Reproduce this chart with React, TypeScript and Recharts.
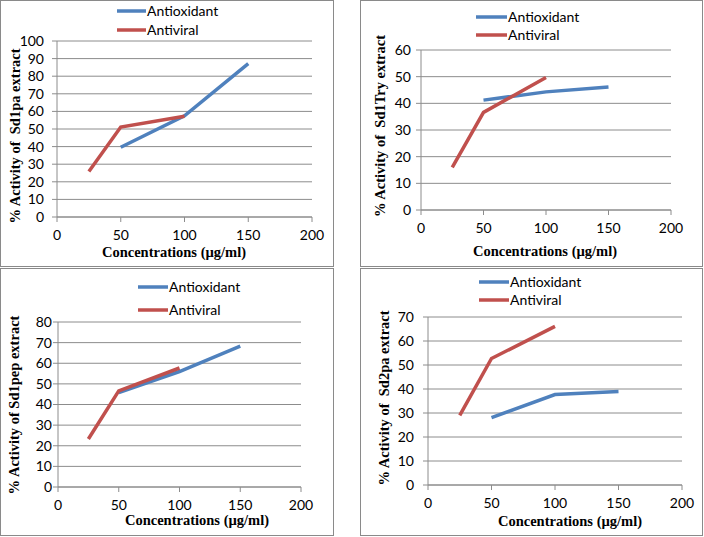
import { CartesianGrid, Legend, Line, LineChart, XAxis, YAxis } from "recharts";

// doses tested for each activity
const antioxidantDoses = [50, 100, 150];
const antiviralDoses = [25, 50, 100];

const xTicks = [0, 50, 100, 150, 200];
const yTicks100 = [0, 10, 20, 30, 40, 50, 60, 70, 80, 90, 100];
const yTicks80 = [0, 10, 20, 30, 40, 50, 60, 70, 80];
const yTicks70 = [0, 10, 20, 30, 40, 50, 60, 70];
const yTicks60 = [0, 10, 20, 30, 40, 50, 60];

// % activity
const sd1paAntioxidant = [39.6, 57.5, 87.1];
const sd1paAntiviral = [25.9, 51.1, 57.2];
const sd1TryAntioxidant = [41.2, 44.3, 46.1];
const sd1TryAntiviral = [16, 36.6, 49.7];
const sd1pepAntioxidant = [45.8, 56, 68.3];
const sd1pepAntiviral = [23.3, 46.6, 57.7];
const sd2paAntioxidant = [28.1, 37.7, 39];
const sd2paAntiviral = [29, 52.7, 66.1];

const BLUE = "#4F81BD";
const RED = "#C0504D";
const GRID = "#8c8c8c";
const SANS = "Lato, 'Open Sans', sans-serif";
const SERIF = "'Liberation Serif', 'DejaVu Serif', serif";

const toPoints = (doses: number[], vals: number[]) =>
  doses.map((x, i) => ({ x, y: vals[i] }));

const panels = [
  {
    name: "sd1pa",
    yTitle: "% Activity of  Sd1pa extract",
    antiox: sd1paAntioxidant,
    antiv: sd1paAntiviral,
    yTicks: yTicks100,
    box: { left: 0, top: 0, w: 334, h: 267 },
    margin: { top: 41, right: 22, bottom: 20, left: 17 },
    yTickMargin: 8,
    legend: { x1: 117, x2: 146, y1: 11, y2: 30 },
    yTitlePos: { x: 15, y: 136 },
    xTitlePos: { x: 174, y: 252 },
  },
  {
    name: "sd1Try",
    yTitle: "% Activity of  Sd1Try extract",
    antiox: sd1TryAntioxidant,
    antiv: sd1TryAntiviral,
    yTicks: yTicks60,
    box: { left: 360, top: 0, w: 343, h: 267 },
    margin: { top: 50, right: 32, bottom: 27, left: 21 },
    yTickMargin: 5,
    legend: { x1: 116, x2: 147, y1: 17, y2: 35 },
    yTitlePos: { x: 20, y: 126 },
    xTitlePos: { x: 185, y: 251 },
  },
  {
    name: "sd1pep",
    yTitle: "% Activity of Sd1pep extract",
    antiox: sd1pepAntioxidant,
    antiv: sd1pepAntiviral,
    yTicks: yTicks80,
    box: { left: 0, top: 268, w: 334, h: 268 },
    margin: { top: 54, right: 33, bottom: 19, left: 18 },
    yTickMargin: 1,
    legend: { x1: 138, x2: 168, y1: 19, y2: 42 },
    yTitlePos: { x: 14, y: 137 },
    xTitlePos: { x: 197, y: 252 },
  },
  {
    name: "sd2pa",
    yTitle: "% Activity of  Sd2pa extract",
    antiox: sd2paAntioxidant,
    antiv: sd2paAntiviral,
    yTicks: yTicks70,
    box: { left: 360, top: 268, w: 343, h: 268 },
    margin: { top: 49, right: 21, bottom: 21, left: 28 },
    yTickMargin: 9,
    legend: { x1: 119, x2: 149, y1: 14, y2: 32 },
    yTitlePos: { x: 24, y: 130 },
    xTitlePos: { x: 210, y: 253 },
  },
];

type Panel = (typeof panels)[number];

function ActivityChart({ p }: { p: Panel }) {
  const { box, legend } = p;
  const yMax = p.yTicks[p.yTicks.length - 1];

  return (
    <div style={{ position: "absolute", left: box.left, top: box.top, width: box.w, height: box.h }}>
      <LineChart width={box.w} height={box.h} margin={p.margin}>
        <CartesianGrid vertical={false} stroke={GRID} strokeWidth={1} />
        <XAxis
          type="number"
          dataKey="x"
          domain={[0, 200]}
          ticks={xTicks}
          stroke={GRID}
          tickSize={5}
          tickMargin={8}
          height={30}
          tick={{ fill: "#000", fontSize: 14, fontFamily: SANS }}
          label={{
            content: () => (
              <text
                x={p.xTitlePos.x}
                y={p.xTitlePos.y}
                dy="0.35em"
                textAnchor="middle"
                fontFamily={SERIF}
                fontWeight="bold"
                fontSize={14.5}
                fill="#000"
              >
                Concentrations (µg/ml)
              </text>
            ),
          }}
        />
        <YAxis
          type="number"
          domain={[0, yMax]}
          ticks={p.yTicks}
          interval={0}
          stroke={GRID}
          tickSize={5}
          tickMargin={p.yTickMargin}
          width={40}
          tick={{ fill: "#000", fontSize: 14, fontFamily: SANS }}
          label={{
            content: () => (
              <text
                x={p.yTitlePos.x}
                y={p.yTitlePos.y}
                dy="0.35em"
                textAnchor="middle"
                transform={`rotate(-90, ${p.yTitlePos.x}, ${p.yTitlePos.y})`}
                fontFamily={SERIF}
                fontWeight="bold"
                fontSize={14.5}
                fill="#000"
                style={{ whiteSpace: "pre" }}
              >
                {p.yTitle}
              </text>
            ),
          }}
        />
        <Legend
          layout="vertical"
          align="center"
          verticalAlign="middle"
          wrapperStyle={{ left: 0, top: 0, width: box.w, height: 50 }}
          content={({ payload }) => (
            <svg width={box.w} height={50} style={{ display: "block" }}>
              {(payload || []).map((entry: any, i: number) => {
                const y = i === 0 ? legend.y1 : legend.y2;
                return (
                  <g key={entry.value}>
                    <line x1={legend.x1} x2={legend.x2} y1={y} y2={y} stroke={entry.color} strokeWidth={3.5} />
                    <text
                      x={legend.x2 + 1}
                      y={y}
                      dy="0.35em"
                      fontFamily={SANS}
                      fontSize={14}
                      fill="#000"
                    >
                      {entry.value}
                    </text>
                  </g>
                );
              })}
            </svg>
          )}
        />
        <Line
          data={toPoints(antioxidantDoses, p.antiox)}
          dataKey="y"
          name="Antioxidant"
          type="linear"
          stroke={BLUE}
          strokeWidth={3.5}
          dot={false}
          activeDot={false}
          isAnimationActive={false}
        />
        <Line
          data={toPoints(antiviralDoses, p.antiv)}
          dataKey="y"
          name="Antiviral"
          type="linear"
          stroke={RED}
          strokeWidth={3.5}
          dot={false}
          activeDot={false}
          isAnimationActive={false}
        />
      </LineChart>
      <div
        style={{
          position: "absolute",
          inset: 0,
          border: "1px solid #8a8a8a",
          boxSizing: "border-box",
          pointerEvents: "none",
        }}
      />
    </div>
  );
}

export default function App() {
  return (
    <div style={{ position: "absolute", left: 0, top: 0, width: 704, height: 537, background: "#fff" }}>
      {panels.map((p) => (
        <ActivityChart key={p.name} p={p} />
      ))}
    </div>
  );
}
